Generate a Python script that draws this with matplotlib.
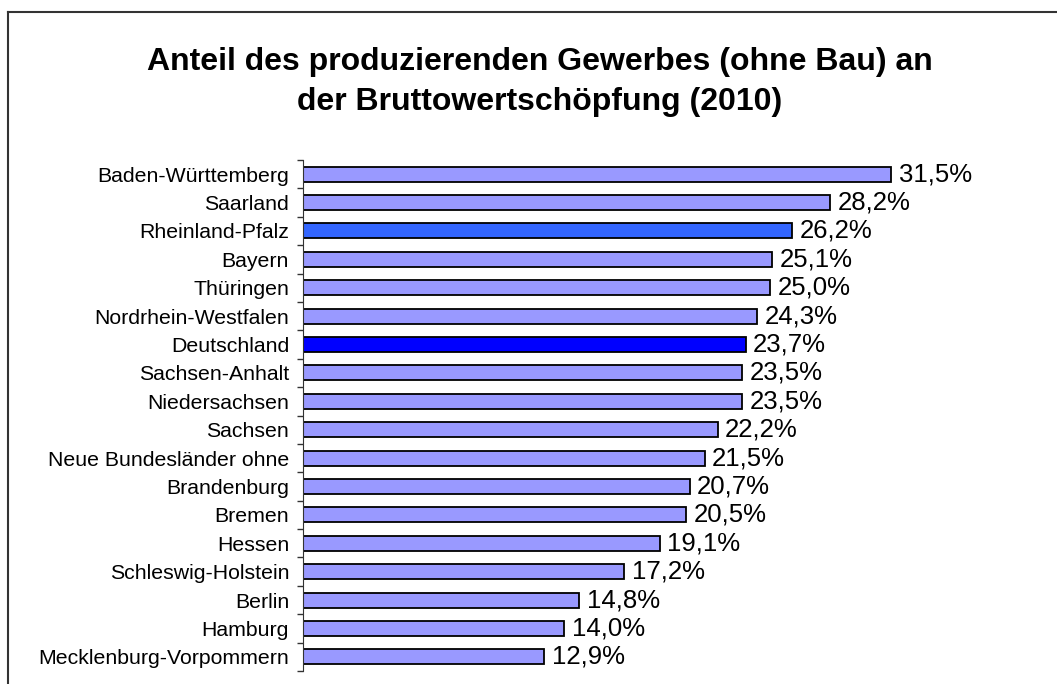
import matplotlib
matplotlib.use('Agg')
import matplotlib.pyplot as plt
from matplotlib.lines import Line2D

plt.rcParams['font.family'] = ['Liberation Sans', 'DejaVu Sans']

# data, top to bottom as in the original chart
laender = ['Baden-Württemberg', 'Saarland', 'Rheinland-Pfalz', 'Bayern', 'Thüringen',
           'Nordrhein-Westfalen', 'Deutschland', 'Sachsen-Anhalt', 'Niedersachsen',
           'Sachsen', 'Neue Bundesländer ohne', 'Brandenburg', 'Bremen', 'Hessen',
           'Schleswig-Holstein', 'Berlin', 'Hamburg', 'Mecklenburg-Vorpommern']
anteil = [31.5, 28.2, 26.2, 25.1, 25.0, 24.3, 23.7, 23.5, 23.5,
          22.2, 21.5, 20.7, 20.5, 19.1, 17.2, 14.8, 14.0, 12.9]

farbe_normal = '#9999FF'
farbe_rp = '#3366FF'
farbe_de = '#0000FF'

colors = []
for name in laender:
    if name == 'Deutschland':
        colors.append(farbe_de)
    elif name == 'Rheinland-Pfalz':
        colors.append(farbe_rp)
    else:
        colors.append(farbe_normal)

fig = plt.figure(figsize=(10.57, 6.84), dpi=100)
ax = fig.add_axes([303 / 1057, 13 / 684, 747 / 1057, 511 / 684])

pos = list(range(len(laender)))
bars = ax.barh(pos, anteil, height=0.53, color=colors, edgecolor='black', linewidth=1.3)
ax.set_ylim(len(laender) - 0.5, -0.5)
ax.set_xlim(0, 40)

# category labels sit in the middle, ticks between the bars
ax.set_yticks(pos)
ax.set_yticklabels(laender, fontsize=15.3)
ax.tick_params(axis='y', which='major', length=0, pad=10)
ax.set_yticks([p - 0.5 for p in pos] + [len(laender) - 0.5], minor=True)
ax.tick_params(axis='y', which='minor', length=4, width=1, color='#333333')
ax.set_xticks([])

for side in ['top', 'right', 'bottom']:
    ax.spines[side].set_visible(False)
ax.spines['left'].set_color('#333333')

labels = [f'{v:.1f}%'.replace('.', ',') for v in anteil]
ax.bar_label(bars, labels=labels, padding=5.5, fontsize=18.5)

fig.text(540 / 1057, 1 - 82 / 684,
         'Anteil des produzierenden Gewerbes (ohne Bau) an\nder Bruttowertschöpfung (2010)',
         ha='center', va='center', fontsize=23, fontweight='bold', linespacing=1.45)

# outer frame (only left and top edge visible)
fig.add_artist(Line2D([8 / 1057, 8 / 1057], [0, 1 - 12 / 684], transform=fig.transFigure,
                      color='#333333', linewidth=1.5))
fig.add_artist(Line2D([8 / 1057, 1056 / 1057], [1 - 12 / 684, 1 - 12 / 684],
                      transform=fig.transFigure, color='#333333', linewidth=1.5))

fig.savefig('out.png', dpi=100)
